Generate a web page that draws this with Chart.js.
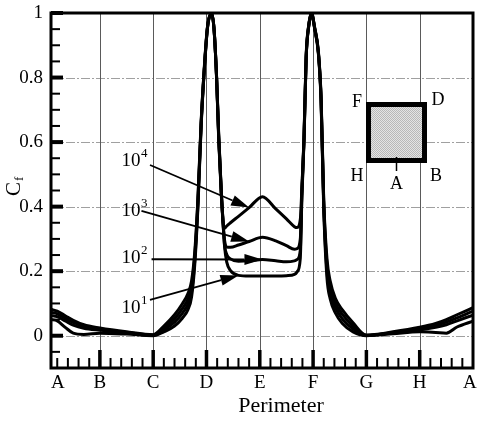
<!DOCTYPE html>
<html>
<head>
<meta charset="utf-8">
<script src="https://cdn.jsdelivr.net/npm/chart.js@4.4.1/dist/chart.umd.min.js"></script>
<style>
  html, body { margin: 0; padding: 0; background: #fff; }
  canvas { display: block; }
</style>
</head>
<body>
<canvas id="cf" width="477" height="424"></canvas>
<script>
// Position along the perimeter, one unit per half side: A=0, B=1, ... H=7, back to A=8
const perimeter = [
  0.08, 0.2, 0.35, 0.5, 0.7, 1.0, 1.5, 2.0, 2.2, 2.4,
  2.55, 2.65, 2.72, 2.78, 2.84, 2.9, 2.96, 3.02, 3.095, 3.14,
  3.19, 3.23, 3.28, 3.31, 3.34, 3.38, 3.45, 3.6, 3.8, 4.05,
  4.3, 4.5, 4.65, 4.7, 4.76, 4.79, 4.83, 4.87, 4.92, 4.97,
  5.03, 5.1, 5.15, 5.2, 5.26, 5.32, 5.42, 5.55, 5.75, 6.0,
  6.5, 7.0, 7.3, 7.5, 7.7, 8.0
];

// Friction coefficient for each Reynolds number
const cfRe1e1 = [
  0.050, 0.046, 0.026, 0.008, 0.004, 0.008, 0.005, 0.000, 0.012, 0.030,
  0.055, 0.080, 0.120, 0.220, 0.400, 0.650, 0.825, 0.955, 0.997, 0.952,
  0.795, 0.605, 0.430, 0.350, 0.275, 0.228, 0.202, 0.187, 0.185, 0.185,
  0.185, 0.186, 0.190, 0.198, 0.240, 0.430, 0.605, 0.860, 0.960, 0.997,
  0.950, 0.872, 0.725, 0.390, 0.180, 0.115, 0.070, 0.038, 0.012, 0.000,
  0.006, 0.012, 0.010, 0.008, 0.027, 0.045
];
const cfRe1e2 = [
  0.063, 0.059, 0.046, 0.033, 0.023, 0.017, 0.009, 0.001, 0.018, 0.042,
  0.070, 0.097, 0.137, 0.233, 0.410, 0.655, 0.828, 0.956, 0.998, 0.953,
  0.798, 0.610, 0.435, 0.352, 0.280, 0.252, 0.238, 0.231, 0.232, 0.236,
  0.232, 0.229, 0.232, 0.236, 0.265, 0.440, 0.610, 0.862, 0.962, 0.998,
  0.952, 0.875, 0.730, 0.400, 0.200, 0.135, 0.086, 0.052, 0.021, 0.001,
  0.009, 0.018, 0.026, 0.034, 0.046, 0.064
];
const cfRe1e3 = [
  0.073, 0.068, 0.054, 0.041, 0.029, 0.021, 0.010, 0.002, 0.024, 0.053,
  0.085, 0.113, 0.153, 0.247, 0.420, 0.660, 0.830, 0.958, 1.000, 0.955,
  0.800, 0.615, 0.440, 0.354, 0.295, 0.275, 0.274, 0.281, 0.292, 0.305,
  0.294, 0.279, 0.268, 0.270, 0.300, 0.450, 0.615, 0.865, 0.963, 1.000,
  0.953, 0.877, 0.735, 0.410, 0.220, 0.150, 0.100, 0.066, 0.030, 0.001,
  0.010, 0.022, 0.032, 0.042, 0.055, 0.076
];
const cfRe1e4 = [
  0.082, 0.076, 0.062, 0.048, 0.034, 0.024, 0.012, 0.003, 0.030, 0.065,
  0.100, 0.130, 0.170, 0.260, 0.430, 0.665, 0.835, 0.960, 1.000, 0.955,
  0.800, 0.620, 0.440, 0.356, 0.333, 0.340, 0.350, 0.370, 0.397, 0.431,
  0.393, 0.362, 0.338, 0.335, 0.360, 0.460, 0.620, 0.870, 0.965, 1.000,
  0.955, 0.880, 0.740, 0.420, 0.240, 0.170, 0.115, 0.080, 0.040, 0.002,
  0.012, 0.026, 0.038, 0.050, 0.065, 0.087
];

// Axis ticks
const cornerLabels = ['A', 'B', 'C', 'D', 'E', 'F', 'G', 'H', 'A'];
const cornerLabelAt = [0.21, 1, 2, 3, 4, 5, 6, 7, 7.94];
const cfTicks = [0, 0.2, 0.4, 0.6, 0.8, 1];

// Reynolds number labels (exponent of 10) with the curve point each arrow points at
const reExponents = ['1', '2', '3', '4'];
const reSeries = [cfRe1e1, cfRe1e2, cfRe1e3, cfRe1e4];
const reArrowIndex = [27, 29, 28, 28];

const SERIF = "'Liberation Serif', 'Times New Roman', Times, serif";

// Placement of the Re labels and arrow tails, in axis units
const reLabelPos = [
  { s: 1.407, cf: 0.070, tailS: 1.94, tailCf: 0.111 },
  { s: 1.407, cf: 0.225, tailS: 1.97, tailCf: 0.237 },
  { s: 1.407, cf: 0.371, tailS: 1.78, tailCf: 0.387 },
  { s: 1.407, cf: 0.526, tailS: 1.94, tailCf: 0.529 }
];

function toPoints(values) {
  return values.map((v, i) => ({ x: perimeter[i], y: v }));
}

function seg(ctx, x1, y1, x2, y2) {
  ctx.beginPath(); ctx.moveTo(x1, y1); ctx.lineTo(x2, y2); ctx.stroke();
}

function arrow(ctx, x1, y1, x2, y2) {
  const ang = Math.atan2(y2 - y1, x2 - x1);
  const len = 18, half = 5.5;
  const bx = x2 - len * Math.cos(ang), by = y2 - len * Math.sin(ang);
  ctx.lineWidth = 1.8;
  seg(ctx, x1, y1, bx, by);
  ctx.beginPath();
  ctx.moveTo(x2, y2);
  ctx.lineTo(bx + half * Math.sin(ang), by - half * Math.cos(ang));
  ctx.lineTo(bx - half * Math.sin(ang), by + half * Math.cos(ang));
  ctx.closePath();
  ctx.fill();
}

function stipple(ctx) {
  const p = document.createElement('canvas');
  p.width = 2; p.height = 2;
  const c = p.getContext('2d');
  c.fillStyle = '#e4e4e4'; c.fillRect(0, 0, 2, 2);
  c.fillStyle = '#b8b8b8'; c.fillRect(0, 0, 1, 1); c.fillRect(1, 1, 1, 1);
  return ctx.createPattern(p, 'repeat');
}

const frame = {
  id: 'frame',
  beforeDatasetsDraw(chart) {
    const { ctx, chartArea: a, scales: { x, y } } = chart;
    ctx.save();
    // dashed horizontal grid
    ctx.strokeStyle = '#a0a0a0';
    ctx.lineWidth = 1;
    ctx.setLineDash([9, 2, 2, 2]);
    for (const v of cfTicks) {
      if (v >= 1) continue;
      const py = Math.round(y.getPixelForValue(v)) + 0.5;
      seg(ctx, a.left, py, a.right, py);
    }
    // vertical grid at each corner / mid-side
    ctx.setLineDash([]);
    ctx.strokeStyle = '#5a5a5a';
    for (let s = 1; s <= 7; s++) {
      const px = Math.round(x.getPixelForValue(s)) + 0.5;
      seg(ctx, px, a.top, px, a.bottom);
    }
    ctx.restore();
  },
  afterDatasetsDraw(chart) {
    const { ctx, chartArea: a, scales: { x, y } } = chart;
    ctx.save();
    ctx.strokeStyle = '#000';
    ctx.fillStyle = '#000';

    // plot border
    ctx.lineWidth = 3;
    ctx.strokeRect(a.left, a.top, a.right - a.left, a.bottom - a.top);

    // y ticks, pointing inward
    for (let k = -1; k <= 20; k++) {
      const v = k * 0.05;
      const py = y.getPixelForValue(v);
      const major = k >= 0 && k % 4 === 0;
      ctx.lineWidth = major ? 4 : 2;
      seg(ctx, a.left, py, a.left + (major ? 12 : 9), py);
    }
    // x ticks, pointing inward
    for (let k = 1; k < 40; k++) {
      const s = k * 0.2;
      const px = x.getPixelForValue(s);
      const major = k % 5 === 0;
      ctx.lineWidth = major ? 3.5 : 2;
      seg(ctx, px, a.bottom, px, a.bottom - (major ? 18 : 10));
    }

    // Reynolds number labels and arrows
    for (let i = 0; i < reExponents.length; i++) {
      const p = reLabelPos[i];
      const lx = x.getPixelForValue(p.s), ly = y.getPixelForValue(p.cf);
      ctx.textAlign = 'left';
      ctx.textBaseline = 'alphabetic';
      ctx.font = '19px ' + SERIF;
      ctx.fillText('10', lx, ly);
      const w = ctx.measureText('10').width;
      ctx.font = '13px ' + SERIF;
      ctx.fillText(reExponents[i], lx + w + 0.5, ly - 9);
      const idx = reArrowIndex[i];
      arrow(ctx,
        x.getPixelForValue(p.tailS), y.getPixelForValue(p.tailCf),
        x.getPixelForValue(perimeter[idx]), y.getPixelForValue(reSeries[i][idx]));
    }

    // cylinder sketch with its corner labels
    const sx = a.right - 107, sy = a.top + 89, side = 61;
    ctx.fillStyle = stipple(ctx);
    ctx.fillRect(sx + 2, sy + 2, side - 4, side - 4);
    ctx.fillStyle = '#000';
    ctx.lineWidth = 5;
    ctx.strokeRect(sx + 2.5, sy + 2.5, side - 5, side - 5);
    ctx.lineWidth = 1.5;
    seg(ctx, sx + side / 2, sy + side - 6, sx + side / 2, sy + side + 8);
    ctx.font = '18px ' + SERIF;
    ctx.textAlign = 'center';
    ctx.textBaseline = 'middle';
    ctx.fillText('F', sx - 9, sy + 0.5);
    ctx.fillText('D', sx + side + 11, sy - 2);
    ctx.fillText('H', sx - 9, sy + side + 13);
    ctx.fillText('B', sx + side + 9, sy + side + 13);
    ctx.fillText('A', sx + side / 2, sy + side + 21);

    // axis titles
    ctx.font = '22px ' + SERIF;
    ctx.textAlign = 'center';
    ctx.textBaseline = 'alphabetic';
    ctx.fillText('Perimeter', 281, 412);

    ctx.translate(20, 196);
    ctx.rotate(-Math.PI / 2);
    ctx.textAlign = 'left';
    ctx.font = '21px ' + SERIF;
    ctx.fillText('C', 0, 0);
    const cw = ctx.measureText('C').width;
    ctx.font = '13px ' + SERIF;
    ctx.fillText('f', cw + 1, 3);
    ctx.restore();
  }
};

const line = (data) => ({
  data: toPoints(data),
  borderColor: '#000',
  borderWidth: 3,
  pointRadius: 0,
  fill: false,
  cubicInterpolationMode: 'monotone'
});

new Chart(document.getElementById('cf'), {
  type: 'line',
  data: {
    datasets: [line(cfRe1e1), line(cfRe1e2), line(cfRe1e3), line(cfRe1e4)]
  },
  options: {
    responsive: false,
    devicePixelRatio: 1,
    animation: false,
    events: [],
    layout: { padding: { left: 0, right: 4, top: 13, bottom: 0 } },
    plugins: { legend: { display: false }, tooltip: { enabled: false } },
    scales: {
      x: {
        type: 'linear',
        min: 0.083,
        max: 8,
        grid: { display: false, drawTicks: false },
        border: { display: false },
        afterBuildTicks: (s) => { s.ticks = cornerLabelAt.map(v => ({ value: v })); },
        afterFit: (s) => { s.height = 56; s.paddingLeft = 0; s.paddingRight = 0; },
        ticks: {
          autoSkip: false,
          maxRotation: 0,
          padding: 4,
          color: '#000',
          font: { family: SERIF, size: 19 },
          callback: (v, i) => cornerLabels[i]
        }
      },
      y: {
        min: -0.1,
        max: 1,
        grid: { display: false, drawTicks: false },
        border: { display: false },
        afterBuildTicks: (s) => { s.ticks = cfTicks.map(v => ({ value: v })); },
        afterFit: (s) => { s.width = 51; s.paddingTop = 0; s.paddingBottom = 0; },
        ticks: {
          padding: 8,
          color: '#000',
          font: { family: SERIF, size: 19 },
          callback: (v) => (v === 0 || v === 1) ? String(v) : v.toFixed(1)
        }
      }
    }
  },
  plugins: [frame]
});
</script>
</body>
</html>
